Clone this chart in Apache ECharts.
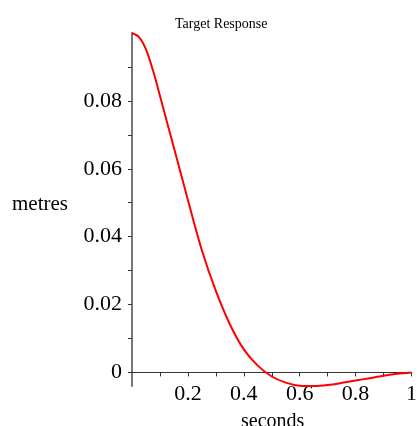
<!DOCTYPE html>
<html><head><meta charset="utf-8">
<script src="https://cdn.jsdelivr.net/npm/echarts@6/dist/echarts.min.js"></script>
<style>html,body{margin:0;padding:0;background:#fff;}#c{width:420px;height:426px;}</style>
</head><body><div id="c"></div>
<script>
var times = [0, 0.025, 0.05, 0.075, 0.1, 0.125, 0.15, 0.2, 0.25, 0.3, 0.35, 0.4, 0.45, 0.5, 0.55, 0.6, 0.65, 0.7, 0.75, 0.8, 0.85, 0.9, 0.95, 1.0];
var metres = [0.1, 0.0988, 0.0952, 0.0890, 0.0815, 0.0738, 0.0662, 0.0508, 0.0360, 0.0240, 0.0142, 0.0068, 0.0020, -0.0012, -0.0030, -0.0039, -0.0040, -0.0037, -0.0031, -0.0024, -0.0017, -0.0010, -0.0004, 0.0];
var xTicks = [0.1, 0.2, 0.3, 0.4, 0.5, 0.6, 0.7, 0.8, 0.9, 1];
var xLabels = [0.2, 0.4, 0.6, 0.8, 1];
var yTicks = [0, 0.01, 0.02, 0.03, 0.04, 0.05, 0.06, 0.07, 0.08, 0.09];
var yLabels = [0, 0.02, 0.04, 0.06, 0.08];
var titleText = 'Target Response';
var xName = 'seconds';
var yName = 'metres';

var serif = '"Liberation Serif", "DejaVu Serif", serif';
var chart = echarts.init(document.getElementById('c'));
chart.setOption({
  animation: false,
  backgroundColor: '#fff',
  grid: {left: 132, right: 1, top: 33, bottom: 40, containLabel: false},
  title: {text: titleText, left: 170, top: 12, textStyle: {fontFamily: serif, fontSize: 14, fontWeight: 'normal', color: '#000'}},
  graphic: [
    {type: 'text', left: 12, top: 194, style: {text: yName, font: '21px ' + serif, fill: '#000'}},
    {type: 'text', left: 241, top: 412, style: {text: xName, font: '20px ' + serif, fill: '#000'}}
  ],
  xAxis: {
    type: 'value', min: 0, max: 1,
    axisLine: {onZero: true, lineStyle: {color: '#333', width: 1}},
    axisTick: {show: true, length: 4, inside: false, customValues: xTicks, lineStyle: {color: '#333'}},
    axisLabel: {customValues: xLabels, fontFamily: serif, fontSize: 22, color: '#000', margin: -3, formatter: function(v){return String(v);}},
    splitLine: {show: false}
  },
  yAxis: {
    type: 'value', min: -0.004, max: 0.1,
    axisLine: {show: true, onZero: false, lineStyle: {color: '#777', width: 2}},
    axisTick: {show: true, length: 4, customValues: yTicks, lineStyle: {color: '#333'}},
    axisLabel: {customValues: yLabels, fontFamily: serif, fontSize: 22, color: '#000', margin: 10, formatter: function(v){return String(v);}},
    splitLine: {show: false}
  },
  series: [{
    type: 'line', smooth: 0.3, symbol: 'none',
    data: times.map(function(t, i){return [t, metres[i]];}),
    lineStyle: {color: '#ff0000', width: 2}
  }]
});
</script></body></html>
